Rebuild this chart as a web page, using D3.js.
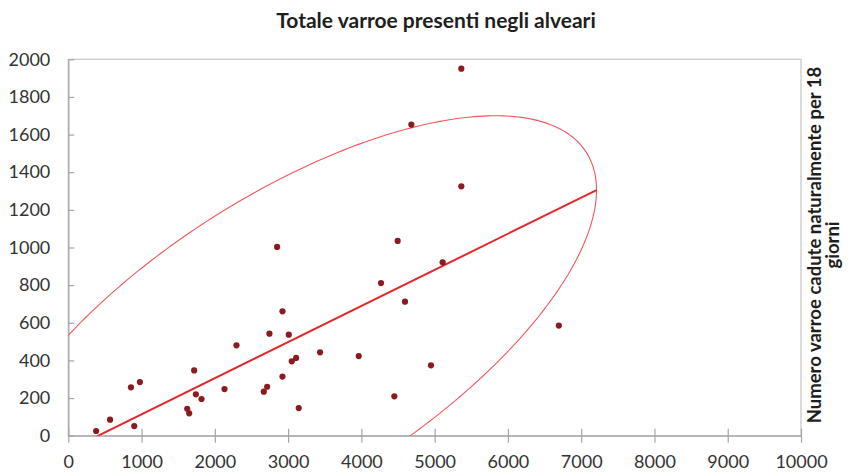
<!DOCTYPE html>
<html>
<head>
<meta charset="utf-8">
<script src="https://cdn.jsdelivr.net/npm/d3@7"></script>
<style>
  body { margin: 0; background: #fff; }
  text { font-family: Lato, "Open Sans", sans-serif; }
</style>
</head>
<body>
<svg id="chart" width="850" height="472"></svg>
<script>
// varroe totali (x) vs varroe cadute in 18 giorni (y)
const xValues = [380, 570, 855, 900, 977, 1623, 1650, 1718, 1741, 1818, 2132, 2295,
  2668, 2714, 2745, 2850, 2923, 2923, 3009, 3050, 3109, 3145, 3436, 3964, 4268,
  4450, 4495, 4595, 4682, 5364, 5364, 5109, 4950, 6695]
const yValues = [25, 85, 257, 51, 285, 143, 119, 347, 220, 195, 248, 480,
  234, 260, 542, 1003, 314, 661, 537, 395, 413, 147, 443, 423, 811,
  209, 1035, 712, 1653, 1950, 1325, 921, 374, 585]

// ellisse di concentrazione: centro, punto a tangente verticale, ampiezza in y
const ellipseCenter = [3030, 503]
const ellipseRight = [7209, 1305]
const ellipseYSpread = 1197

const xTicks = [0, 1000, 2000, 3000, 4000, 5000, 6000, 7000, 8000, 9000, 10000]
const yTicks = [0, 200, 400, 600, 800, 1000, 1200, 1400, 1600, 1800, 2000]

const titleText = 'Totale varroe presenti negli alveari'
const yTitleLines = ['Numero varroe cadute naturalmente per 18', 'giorni']

window.addEventListener('load', () => {
  const svg = d3.select('#chart'),
    left = 68.3, right = 801, top = 59.3, bottom = 435.7

  const x = d3.scaleLinear().domain([0, 10000]).range([left, right])
  const y = d3.scaleLinear().domain([0, 2000]).range([bottom, top])

  svg.append('defs').append('clipPath').attr('id', 'plot-clip')
    .append('rect')
    .attr('x', left).attr('y', top)
    .attr('width', right - left).attr('height', bottom - top)

  // frame
  svg.append('rect')
    .attr('x', left).attr('y', top)
    .attr('width', right - left).attr('height', bottom - top)
    .attr('fill', 'none')
    .attr('stroke', '#c4c4c4')
    .attr('stroke-width', 1.2)

  const xAxis = svg.append('g')
    .attr('transform', `translate(0, ${bottom})`)
    .call(d3.axisBottom(x).tickValues(xTicks).tickFormat(d3.format('d'))
      .tickSizeInner(-7).tickSizeOuter(0).tickPadding(20))
  xAxis.selectAll('.tick line').attr('y1', 7)

  const yAxis = svg.append('g')
    .attr('transform', `translate(${left}, 0)`)
    .call(d3.axisLeft(y).tickValues(yTicks).tickFormat(d3.format('d'))
      .tickSizeInner(6).tickSizeOuter(0).tickPadding(12))
  yAxis.selectAll('.tick line').attr('x2', 6)

  svg.selectAll('.domain').attr('stroke', '#a6a6a6').attr('stroke-width', 1.3)
  svg.selectAll('.tick line').attr('stroke', '#a6a6a6').attr('stroke-width', 1.2)
  svg.selectAll('.tick text')
    .style('font-family', 'Lato, sans-serif')
    .style('font-size', '18px')
    .attr('fill', '#333')

  // ellipse from centre + conjugate directions
  const [cx, cy] = ellipseCenter,
    a = ellipseRight[0] - cx,
    b = ellipseRight[1] - cy,
    c = Math.sqrt(ellipseYSpread * ellipseYSpread - b * b)
  const ts = d3.range(0, 2 * Math.PI + 0.01, Math.PI / 180)
  const ellipse = ts.map((t) => [cx + a * Math.cos(t), cy + b * Math.cos(t) + c * Math.sin(t)])

  const plot = svg.append('g').attr('clip-path', 'url(#plot-clip)')

  plot.append('path')
    .datum(ellipse)
    .attr('fill', 'none')
    .attr('stroke', '#f0585c')
    .attr('stroke-width', 1.1)
    .attr('d', d3.line().x((d) => x(d[0])).y((d) => y(d[1])))

  // regression line between vertical tangent points
  const reg = [[cx - a, cy - b], [cx + a, cy + b]]
  plot.append('path')
    .datum(reg)
    .attr('fill', 'none')
    .attr('stroke', '#e5262b')
    .attr('stroke-width', 2)
    .attr('d', d3.line().x((d) => x(d[0])).y((d) => y(d[1])))

  svg.append('g')
    .selectAll('circle')
    .data(xValues.map((v, i) => [v, yValues[i]]))
    .enter()
    .append('circle')
    .attr('cx', (d) => x(d[0]))
    .attr('cy', (d) => y(d[1]))
    .attr('r', 3.1)
    .attr('fill', '#8a1c1f')

  svg.append('text')
    .attr('x', 436)
    .attr('y', 28)
    .attr('text-anchor', 'middle')
    .style('font-size', '21px')
    .style('font-weight', 'bold')
    .attr('fill', '#1e1e1e')
    .text(titleText)

  svg.append('g')
    .attr('transform', 'translate(821, 245) rotate(-90)')
    .selectAll('text')
    .data(yTitleLines)
    .enter()
    .append('text')
    .attr('x', 0)
    .attr('y', (d, i) => i * 17.5)
    .attr('text-anchor', 'middle')
    .style('font-size', '18.5px')
    .style('font-weight', 'bold')
    .attr('fill', '#1e1e1e')
    .text((d) => d)
})
</script>
</body>
</html>
